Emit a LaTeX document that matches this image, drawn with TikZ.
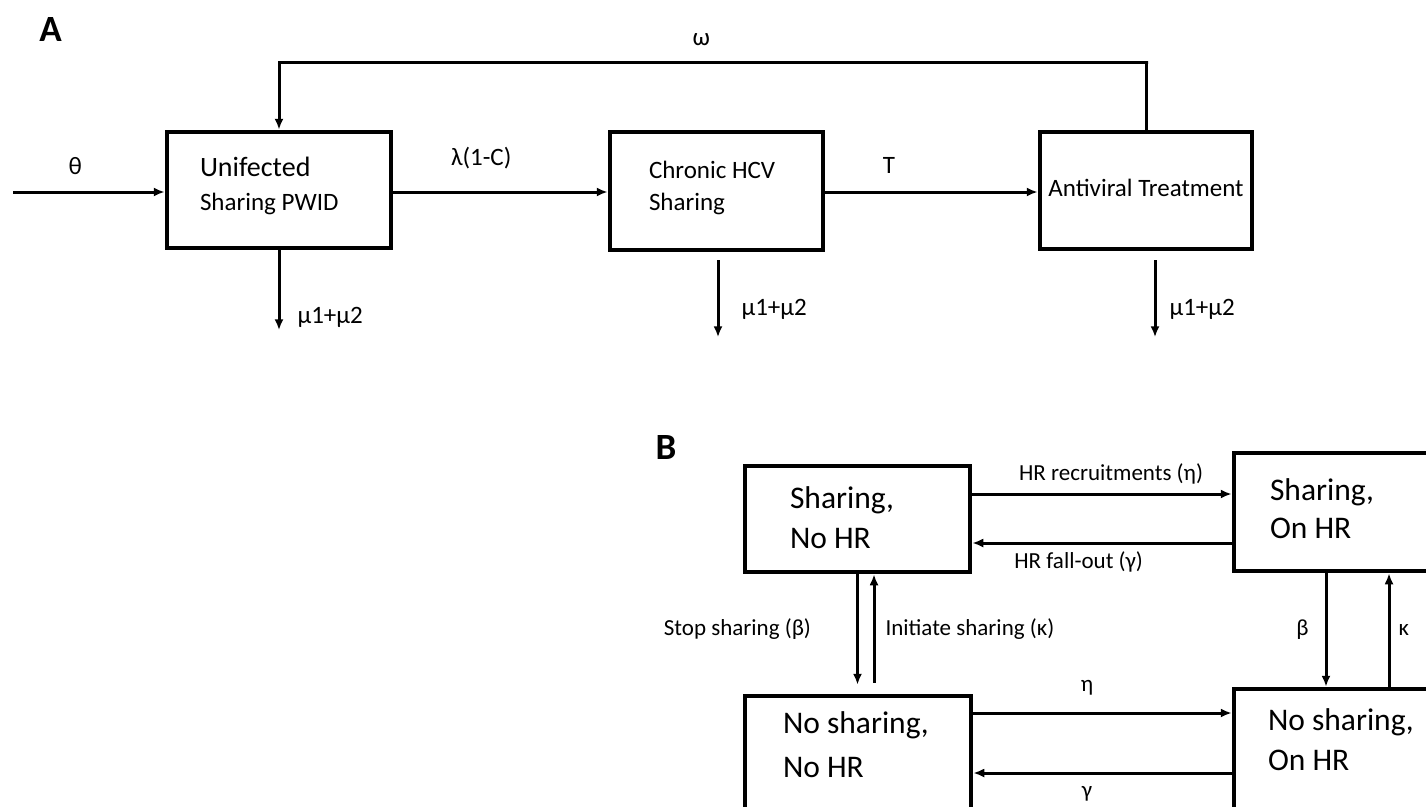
\documentclass[tikz,border=0pt]{standalone}
\usepackage{fontspec}
\setmainfont{Carlito}
\usepackage{tikz}
\usetikzlibrary{arrows.meta,positioning}

\begin{document}
\begin{tikzpicture}[x=1pt, y=1pt, node distance=433pt, >={Latex[length=11pt,width=9pt]},
  stage/.style={draw, rectangle, line width=4.5pt, inner ysep=0pt, align=flush left, font=\fontsize{25}{34}\selectfont},
  state/.style={draw, rectangle, line width=4.5pt, inner ysep=0pt, align=flush left, font=\fontsize{31.5}{40}\selectfont},
  flow/.style={->, line width=3pt},
  rate/.style={inner sep=0pt, text height=17pt, text depth=5pt, font=\fontsize{25}{30}\selectfont},
  rateb/.style={inner sep=0pt, text height=16pt, text depth=5pt, font=\fontsize{23}{28}\selectfont},
  panel/.style={inner sep=0pt, font=\fontsize{37}{44}\selectfont\bfseries}]
  \path[use as bounding box, clip] (0,0) rectangle (1426,-806);

  % Nodes
  \node (lblA) [panel] at (50.5,-30) {A};
  \node (unif) [stage, text width=158pt, inner xsep=33pt, text height=44pt, text depth=72pt] at (279,-190) {{\fontsize{28}{34}\selectfont Unifected}\\Sharing PWID};
  \node (chronic) [stage, right of=unif, xshift=4.5pt, yshift=-1pt, text width=135pt, inner xsep=39pt, text height=46pt, text depth=72pt, font=\fontsize{25}{32}\selectfont] {Chronic HCV\\Sharing};
  \node (treat) [stage, right of=chronic, xshift=-3.5pt, yshift=0.5pt, text width=204pt, inner xsep=4pt, text height=64pt, text depth=53pt, align=flush center] {Antiviral Treatment};

  \node (lblB) [panel] at (666,-447.5) {B};
  \node (shno) [state, text width=135pt, inner xsep=45pt, text height=42pt, text depth=64pt] at (857.5,-519) {Sharing,\\No HR};
  \node (shon) [state, node distance=489pt, right of=shno, yshift=7pt, text width=153pt, inner xsep=36pt, text height=47pt, text depth=71pt, font=\fontsize{31.5}{38}\selectfont] {Sharing,\\On HR};
  \node (nsno) [state, node distance=247pt, below of=shno, xshift=0.5pt, text width=150pt, inner xsep=38pt, text height=37pt, text depth=103pt, font=\fontsize{31.5}{44}\selectfont] {No sharing,\\No HR};
  \node (nson) [state, node distance=247pt, below of=shon, text width=157pt, inner xsep=34pt, text height=41pt, text depth=99pt] {No sharing,\\On HR};

  \coordinate (src) at (13,-192);
  \coordinate (top) at (1148,-62);
  \coordinate (outU) at ([yshift=-80pt]unif.south);
  \coordinate (outC) at ([xshift=1.5pt,yshift=-85pt]chronic.south);
  \coordinate (outT) at ([xshift=9pt,yshift=-86pt]treat.south);

  % Edges
  \draw[flow] (src) -- (src -| unif.west) node (rtheta) [rate, pos=0.41, above=11pt] {θ};
  \draw[flow] ([yshift=-2pt]unif.east) -- ([yshift=-2pt]unif.east -| chronic.west) node (rlambda) [rate, pos=0.41, above=20pt] {λ(1-C)};
  \draw[flow] ([yshift=-1pt]chronic.east) -- ([yshift=-1pt]chronic.east -| treat.west) node (rT) [rate, pos=0.3, above=12pt] {T};
  \draw[flow] (treat.north) |- (top) -| node (romega) [rate, pos=0.257, above=10pt] {ω} (unif.north);
  \draw[flow] (unif.south) -- (outU) node (rmu1) [rate, pos=0.84, right=17pt] {μ1+μ2};
  \draw[flow] ([xshift=1.5pt,yshift=-8pt]chronic.south) -- (outC) node (rmu2) [rate, pos=0.64, right=22pt] {μ1+μ2};
  \draw[flow] ([xshift=9pt,yshift=-9pt]treat.south) -- (outT) node (rmu3) [rate, pos=0.64, right=13pt] {μ1+μ2};

  \draw[flow] ([yshift=25pt]shno.east) -- ([yshift=25pt]shno.east -| shon.west) node (rrecr) [rateb, pos=0.535, above=7pt] {HR recruitments (η)};
  \draw[flow] ([yshift=-24pt]shno.east -| shon.west) -- ([yshift=-24pt]shno.east) node (rfall) [rateb, pos=0.59, below=8pt] {HR fall-out (γ)};
  \draw[flow, shorten >=9pt] (shno.south) -- (shno.south |- nsno.north) node (rstop) [rateb, pos=0.47, left=45pt] {Stop sharing (β)};
  \draw[flow, shorten <=11pt] ([xshift=16.5pt]shno.south |- nsno.north) -- ([xshift=16.5pt]shno.south) node (rinit) [rateb, pos=0.53, right=10pt] {Initiate sharing (κ)};
  \draw[flow] ([xshift=-20.5pt]shon.south) -- ([xshift=-20.5pt]shon.south |- nson.north) node (rbeta) [rateb, midway, left=16pt] {β};
  \draw[flow] ([xshift=42.5pt]shon.south |- nson.north) -- ([xshift=42.5pt]shon.south) node (rkappa) [rateb, midway, right=8pt] {κ};
  \draw[flow] ([yshift=53pt]nsno.east) -- ([yshift=53pt]nsno.east -| nson.west) node (reta) [rateb, pos=0.44, above=15pt] {η};
  \draw[flow] ([yshift=-7pt]nsno.east -| nson.west) -- ([yshift=-7pt]nsno.east) node (rgamma) [rateb, pos=0.56, below=7pt] {γ};
\end{tikzpicture}
\end{document}
